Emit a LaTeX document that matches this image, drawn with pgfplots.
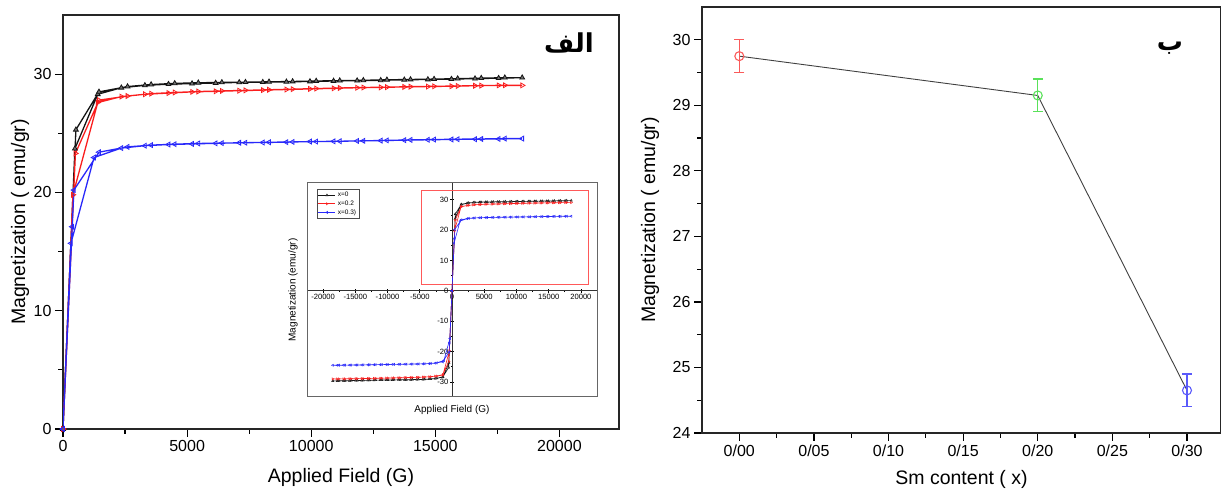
\documentclass[border=0pt]{standalone}
\usepackage{fontspec}
\setmainfont{Liberation Sans}
\newfontfamily\arabicfont[Script=Arabic]{DejaVu Sans}
\TeXXeTstate=1
\usepackage{pgfplots}
\usepackage{pgfplotstable}
\pgfplotsset{compat=1.18}

\definecolor{cblack}{RGB}{20,20,20}
\definecolor{cred}{RGB}{250,30,30}
\definecolor{cblue}{RGB}{40,40,250}
\definecolor{pred}{RGB}{250,90,90}
\definecolor{pgreen}{RGB}{90,225,90}
\definecolor{pblue}{RGB}{90,90,250}

% x=0 : initial branch out to 18.5 kG, then the return branch
\pgfplotstableread{
H M
0 0
480 23.7
1400 28.3
2350 28.85
3300 29.05
4250 29.15
5200 29.2
6150 29.25
7100 29.3
8050 29.32
9000 29.35
9950 29.38
10900 29.42
11850 29.45
12800 29.48
13750 29.52
14700 29.55
15650 29.58
16600 29.62
17550 29.66
18500 29.7
17800 29.7
16850 29.66
15900 29.62
14950 29.58
14000 29.55
13050 29.52
12100 29.48
11150 29.45
10200 29.42
9250 29.38
8300 29.35
7350 29.32
6400 29.3
5450 29.27
4500 29.22
3550 29.12
2600 28.95
1450 28.5
520 25.3
0 0
}\datazero

% x=0.2
\pgfplotstableread{
H M
0 0
400 19.8
1400 27.6
2350 28.1
3300 28.3
4250 28.4
5200 28.5
6150 28.55
7100 28.6
8050 28.65
9000 28.7
9950 28.75
10900 28.8
11850 28.85
12800 28.88
13750 28.92
14700 28.95
15650 28.98
16600 29.02
17550 29.05
18500 29.05
17800 29.06
16850 29.03
15900 29.0
14950 28.97
14000 28.94
13050 28.9
12100 28.87
11150 28.83
10200 28.78
9250 28.73
8300 28.68
7350 28.63
6400 28.58
5450 28.53
4500 28.45
3550 28.35
2600 28.15
1450 27.8
500 23.3
0 0
}\datatwo

% x=0.3
\pgfplotstableread{
H M
0 0
320 15.7
1250 22.95
2350 23.75
3300 23.95
4250 24.05
5200 24.1
6150 24.15
7100 24.2
8050 24.22
9000 24.25
9950 24.3
10900 24.32
11850 24.35
12800 24.38
13750 24.42
14700 24.45
15650 24.48
16600 24.5
17550 24.52
18500 24.55
17800 24.55
16850 24.52
15900 24.5
14950 24.47
14000 24.44
13050 24.4
12100 24.36
11150 24.33
10200 24.3
9250 24.27
8300 24.24
7350 24.2
6400 24.17
5450 24.14
4500 24.08
3550 24.0
2600 23.85
1450 23.4
440 20.2
370 17.1
0 0
}\datathree

\pgfplotsset{
  panel/.style={
    scale only axis,
    anchor=south west,
    tick align=outside,
    xtick pos=left, ytick pos=left,
    major tick length=8pt, minor tick length=5pt,
    every tick/.style={black, line width=1.2pt},
    axis line style={black!85, line width=1.3pt},
    tick label style={font=\fontsize{16}{16}\selectfont},
    label style={font=\fontsize{19.5}{20}\selectfont},
    /pgf/number format/assume math mode=true,
    /pgf/number format/1000 sep={},
    scaled x ticks=false,
  },
  sZero/.style={cblack, line width=1.3pt, mark=triangle*, mark size=2.8pt,
    mark options={fill=black!55, line width=0.8pt}},
  sTwo/.style={cred, line width=1.3pt, mark=triangle, mark size=2.8pt,
    mark options={rotate=-90, fill=white, line width=0.8pt}},
  sThree/.style={cblue, line width=1.3pt, mark=triangle, mark size=2.8pt,
    mark options={rotate=90, fill=white, line width=0.8pt}},
  errpt/.style={#1, only marks, mark=o, mark size=4.5pt,
    mark options={#1, fill=white, line width=1.1pt},
    error bars/.cd, y dir=both, y explicit,
    error bar style={#1, line width=1.2pt},
    error mark options={#1, rotate=90, mark size=5pt, line width=1.2pt}},
}

\begin{document}
\begin{tikzpicture}
\useasboundingbox (0pt,0pt) rectangle (1221pt,489pt);

% ---------- panel a : M(H) ----------
\begin{axis}[panel,
  at={(63pt,60pt)}, width=556pt, height=414pt,
  xmin=0, xmax=22400, ymin=0, ymax=35,
  xtick={0,5000,...,20000}, ytick={0,10,20,30},
  minor x tick num=1, minor y tick num=1,
  xlabel={Applied Field (G)},
  ylabel={Magnetization ( emu/gr)},
  xlabel style={at={(axis description cs:0.5,-0.118)}, anchor=center},
  ylabel style={at={(axis description cs:-0.077,0.5)}, anchor=center},
]
\addplot[sZero] table[x=H, y=M] {\datazero};
\addplot[sTwo] table[x=H, y=M] {\datatwo};
\addplot[sThree] table[x=H, y=M] {\datathree};
\end{axis}

% ---------- inset : full loop ----------
\begin{axis}[
  scale only axis, anchor=south west,
  at={(307pt,92pt)}, width=290pt, height=214pt,
  axis background/.style={fill=white},
  axis lines=middle,
  axis line style={black!80, line width=0.8pt, -},
  xmin=-22500, xmax=22500, ymin=-35, ymax=35.5,
  xtick={-20000,-15000,...,20000}, ytick={-30,-20,...,30},
  minor x tick num=1, minor y tick num=1,
  hide obscured x ticks=false, hide obscured y ticks=false,
  tick align=center,
  major tick length=4pt, minor tick length=2.5pt,
  every tick/.style={black, line width=0.6pt},
  tick label style={font=\fontsize{7.6}{7.6}\selectfont, inner sep=1.5pt},
  /pgf/number format/assume math mode=true,
  /pgf/number format/1000 sep={},
  scaled x ticks=false,
  xlabel={Applied Field (G)},
  ylabel={Magnetization (emu/gr)},
  label style={font=\fontsize{10}{10}\selectfont},
  xlabel style={at={(axis description cs:0.5,-0.061)}, anchor=center},
  ylabel style={at={(axis description cs:-0.048,0.5)}, anchor=center, rotate=90},
  legend style={at={(axis description cs:0.034,0.972)}, anchor=north west,
    font=\fontsize{6.5}{7}\selectfont, draw=black!70, line width=0.5pt,
    inner sep=1pt, row sep=-1.5pt, fill=white},
  legend cell align=left,
  clip=false,
]
\draw[black!60, line width=1pt] (rel axis cs:0,0) rectangle (rel axis cs:1,1);
\draw[red!65, line width=0.9pt] (axis cs:-4800,2) rectangle (axis cs:21250,33.2);
\addplot[sZero, line width=0.6pt, mark size=1.3pt, mark options={line width=0.4pt, fill=black!55}] table[x=H, y=M] {\datazero};
\addplot[sTwo, line width=0.6pt, mark size=1.3pt, mark options={rotate=-90, line width=0.4pt}] table[x=H, y=M] {\datatwo};
\addplot[sThree, line width=0.6pt, mark size=1.3pt, mark options={rotate=90, line width=0.4pt}] table[x=H, y=M] {\datathree};
\legend{x=0, x=0.2, x=0.3)}
\addplot[sZero, forget plot, line width=0.6pt, mark size=1.3pt, mark options={line width=0.4pt, fill=black!55}] table[x expr=-\thisrow{H}, y expr=-\thisrow{M}] {\datazero};
\addplot[sTwo, forget plot, line width=0.6pt, mark size=1.3pt, mark options={rotate=-90, line width=0.4pt}] table[x expr=-\thisrow{H}, y expr=-\thisrow{M}] {\datatwo};
\addplot[sThree, forget plot, line width=0.6pt, mark size=1.3pt, mark options={rotate=90, line width=0.4pt}] table[x expr=-\thisrow{H}, y expr=-\thisrow{M}] {\datathree};
\end{axis}

% ---------- panel b : M(x) ----------
\begin{axis}[panel,
  at={(702pt,56pt)}, width=519pt, height=426pt,
  xmin=-0.025, xmax=0.3228, ymin=24, ymax=30.5,
  xtick={0,0.05,0.1,0.15,0.2,0.25,0.3},
  xticklabels={0/00,0/05,0/10,0/15,0/20,0/25,0/30},
  ytick={24,25,...,30},
  minor x tick num=1, minor y tick num=1,
  xlabel={Sm content ( x)},
  ylabel={Magnetization ( emu/gr)},
  xlabel style={at={(axis description cs:0.5,-0.11)}, anchor=center},
  ylabel style={at={(axis description cs:-0.1,0.5)}, anchor=center},
]
\addplot[black!75, line width=0.9pt] coordinates {(0,29.75) (0.2,29.15) (0.3,24.65)};
\addplot[errpt=pred] coordinates {(0,29.75) +- (0,0.25)};
\addplot[errpt=pgreen] coordinates {(0.2,29.15) +- (0,0.25)};
\addplot[errpt=pblue] coordinates {(0.3,24.65) +- (0,0.25)};
\end{axis}

\node[font=\arabicfont\bfseries\fontsize{26}{26}\selectfont] at (569pt,446pt) {\beginR الف\endR};
\node[font=\arabicfont\bfseries\fontsize{26}{26}\selectfont] at (1170pt,441pt) {\beginR ب\endR};
\end{tikzpicture}
\end{document}
